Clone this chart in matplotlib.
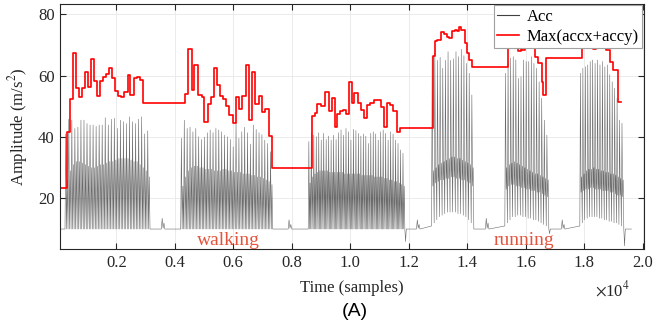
import numpy as np
import matplotlib.pyplot as plt

plt.rcParams['font.family'] = ['Liberation Serif', 'DejaVu Serif']
plt.rcParams['mathtext.fontset'] = 'stix'

# Max(accx+accy): step start (samples) and level (m/s^2)
max_x = [0, 304, 417, 509, 622, 725, 838, 940, 1043, 1145, 1248, 1340, 1453, 1556,
         1650, 1740, 1864, 1956, 2068, 2161, 2274, 2390, 2479, 2595, 2708, 2800, 2903,
         4349, 4463, 4579, 4667, 4804, 4920, 5009, 5125, 5228, 5330, 5443, 5545, 5659,
         5762, 5864, 5980, 6093, 6195, 6308, 6424, 6527, 6640, 6754, 6870, 6982, 7096,
         7211, 7313,
         8690, 8800, 8882, 8990, 9145, 9261, 9364, 9467, 9556, 9648, 9740, 9853, 9945,
         10058, 10127, 10263, 10366, 10468, 10582, 10674, 10811, 11052, 11166, 11258,
         11371, 11474, 11588, 11700,
         12842, 12910, 12978, 13115, 13207, 13299, 13388, 13480, 13573, 13641, 13730,
         13799, 13935, 13992, 14080, 14162,
         15395, 15500, 15620, 15755, 15840, 15890, 15970, 16100, 16200, 16329, 16431,
         16548, 16603, 16695,
         17914, 18020, 18150, 18300, 18420, 18460, 18580, 18650, 18760, 18880, 18993,
         19150]
max_y = [23.5, 41.5, 52.3, 67.5, 56.1, 53.1, 55.9, 61.2, 56.4, 65.4, 58.1, 53.4, 58.4, 59.6,
         60.4, 62.5, 59.1, 55.0, 53.5, 52.9, 54.6, 60.3, 53.7, 59.1, 59.5, 58.6, 51.0,
         53.9, 68.6, 55.3, 63.6, 53.6, 53.1, 44.8, 50.7, 52.9, 62.4, 56.9, 53.5, 52.3,
         50.2, 47.2, 44.5, 52.9, 49.1, 53.5, 63.5, 45.5, 61.3, 50.7, 53.3, 48.2, 49.0,
         40.4, 29.8,
         46.9, 47.9, 50.8, 50.0, 54.7, 48.6, 52.7, 43.4, 47.5, 48.4, 48.9, 47.6, 57.8,
         51.0, 54.4, 51.2, 48.8, 46.2, 50.5, 51.0, 52.1, 49.7, 43.4, 51.2,
         50.3, 48.6, 41.6, 42.8,
         66.4, 71.4, 71.6, 74.1, 73.6, 72.5, 72.2, 74.7, 74.9, 74.6, 75.8,
         74.9, 70.5, 67.3, 65.1, 62.7,
         70.5, 73.0, 74.0, 68.0, 72.5, 68.5, 73.0, 71.0, 69.0, 66.2, 64.0,
         58.0, 53.7, 65.9,
         71.0, 73.5, 74.5, 68.8, 73.5, 69.0, 72.5, 72.0, 68.4, 64.6, 61.7,
         51.5]
max_end = 19270

# Acc: bursts of activity (walking x3, running x3)
burst_start = [246, 4203, 8565, 12783, 15290, 17855]
burst_end = [3154, 7350, 11870, 14230, 16795, 19360]
burst_dip = [10.0, 10.0, 5.9, 10.0, 8.5, 4.5]
rest_level = 10.0

walk_peaks = [
    [41.0, 45.8, 45.5, 42.8, 43.2, 45.5, 45.5, 44.4, 43.9, 43.9, 43.5, 43.9, 43.9, 46.3,
     43.9, 45.8, 46.1, 42.8, 45.5, 45.0, 44.4, 46.6, 45.0, 44.4, 45.8, 46.6, 41.0, 42.0],
    [39.6, 45.5, 42.8, 43.2, 41.7, 42.8, 40.1, 39.2, 40.0, 41.4, 42.3, 41.4, 42.8, 42.3,
     41.7, 40.6, 40.1, 39.2, 36.8, 45.0, 39.6, 41.7, 43.2, 41.4, 37.7, 43.9, 42.5, 41.4,
     40.8, 39.0, 37.9, 35.2],
    [38.5, 41.4, 40.6, 40.1, 41.4, 39.0, 41.2, 39.2, 40.3, 39.0, 40.6, 39.2, 41.4, 42.3,
     40.6, 42.8, 41.7, 39.0, 42.5, 42.1, 41.2, 40.3, 41.0, 40.3, 37.9, 41.2, 41.7, 41.0,
     39.0, 41.7, 42.3, 41.2, 39.0, 41.7, 41.0, 39.0, 37.9, 35.8, 34.7],
]
walk_mid = [
    [26, 29, 31, 32, 32, 31.5, 31, 30.5, 30, 30, 30.5, 31, 31, 31.5,
     32, 32, 32.5, 33, 33, 33, 33, 32.5, 32, 32, 31, 30, 29, 27],
    [24, 27, 29, 30, 30.5, 30.5, 30, 30, 29.5, 29.5, 29.5, 29, 29, 29,
     29.5, 29.5, 29, 29, 28.5, 28.5, 28.5, 28, 28, 28, 27.5, 27.5, 27, 27,
     26.5, 26, 25.5, 24.5],
    [25, 27, 28, 28.5, 29, 29, 29, 29, 28.5, 28.5, 28.5, 28.5, 28.5, 28.5,
     28, 28, 28, 28, 28, 28, 28, 27.5, 27.5, 27.5, 27.5, 27.5, 27, 27,
     27, 27, 26.5, 26.5, 26, 26, 25.5, 25.5, 25, 24.5, 24],
]

run_peaks = [
    [66.2, 67.5, 65.0, 66.0, 62.4, 65.0, 67.8, 65.0, 65.5, 67.8, 66.2, 68.6, 66.5, 64.0,
     60.8, 53.7],
    [60.8, 64.0, 65.7, 66.2, 65.1, 59.1, 59.7, 65.1, 64.6, 64.6, 66.2, 64.0, 62.4, 58.0,
     52.6, 45.5, 40.6],
    [60.8, 62.4, 62.9, 63.5, 64.6, 65.1, 64.0, 65.1, 63.5, 64.6, 62.9, 63.5, 60.3, 58.0,
     55.9, 52.6, 45.5, 44.5],
]
run_hi = [
    [29, 30, 31, 31.5, 32, 32.5, 33, 33.5, 33.5, 33, 33, 32.5, 32, 31.5, 31, 30],
    [30, 31, 31.5, 32, 31.5, 31, 30.5, 30, 29.5, 29, 28.5, 28, 28, 27.5, 27, 26.5, 26],
    [27, 28, 29, 29.5, 29.5, 30, 29.5, 29.5, 29, 29, 28.5, 28.5, 28, 28, 27.5, 27, 26.5, 26],
]
run_lo = [
    [24, 25, 25.5, 26, 26, 26.5, 26.5, 27, 27, 26.5, 26.5, 26, 26, 25.5, 25, 24],
    [23, 24, 24.5, 24.5, 24, 24, 23.5, 23.5, 23, 23, 22.5, 22.5, 22, 22, 21.5, 21, 20.5],
    [22, 22.5, 23, 23, 23.5, 23.5, 23, 23, 23, 22.5, 22.5, 22.5, 22, 22, 21.5, 21, 21, 20.5],
]
run_trough = [
    [11, 12, 13, 14, 14.5, 15, 15.5, 15.5, 15.5, 15.5, 15, 15, 14.5, 14, 13, 12],
    [11, 12, 13, 14, 14, 14.5, 14.5, 14, 14, 13.5, 13.5, 13, 13, 12.5, 12, 11.5, 11],
    [11, 12, 13, 13.5, 14, 14, 14, 14, 13.5, 13.5, 13, 13, 12.5, 12.5, 12, 12, 11.5, 11],
]

blip_x = [3600, 7940, 12327, 14685, 17283]
blip_h = [13.5, 13.0, 13.0, 13.5, 13.0]
acc_end = 19620


def stride_levels(i):
    # list of level sequences, one per stride
    if i < 3:
        return [[rest_level, p, rest_level, m]
                for p, m in zip(walk_peaks[i], walk_mid[i])]
    k = i - 3
    return [[t, p, lo, hi]
            for p, hi, lo, t in zip(run_peaks[k], run_hi[k], run_lo[k], run_trough[k])]


gx, gy = [0], [rest_level]
for i in range(len(burst_start)):
    strides = stride_levels(i)
    w = (burst_end[i] - burst_start[i]) / len(strides)
    for j, lev in enumerate(strides):
        x0 = burst_start[i] + j * w
        for k, v in enumerate(lev):
            gx.append(x0 + k * w / len(lev))
            gy.append(v)
    gx += [burst_end[i], burst_end[i] + 25, burst_end[i] + 50]
    gy += [rest_level, burst_dip[i], rest_level]
    if i < len(blip_x):
        b, h = blip_x[i], blip_h[i]
        gx += [b - 60, b - 30, b, b + 30, b + 60]
        gy += [rest_level, h, rest_level + 0.3, h - 1.5, rest_level]
gx.append(acc_end)
gy.append(rest_level)

fig = plt.figure(figsize=(6.67, 3.28), dpi=100)
ax = fig.add_axes([0.0904, 0.2409, 0.8751, 0.7484])

ax.plot(gx, gy, color='#6a6a6a', lw=0.4, label='Acc')
ax.step(max_x + [max_end], max_y + [max_y[-1]], where='post',
        color='#ff0000', lw=1.2, label='Max(accx+accy)')

ax.text(5830, 6.4, 'walking', color='#e4533c', fontsize=14, ha='center', va='center')
ax.text(15930, 6.4, 'running', color='#e4533c', fontsize=14, ha='center', va='center')

ax.set_xlim(85, 20050)
ax.set_ylim(3.5, 83.5)
xt = np.arange(2000, 20001, 2000)
ax.set_xticks(xt)
ax.set_xticklabels([f'{v / 1e4:.1f}' for v in xt])
ax.set_yticks([20, 40, 60, 80])
ax.tick_params(direction='in', top=True, right=True, length=4, width=0.8,
               labelsize=12, colors='#262626', pad=4)
for s in ax.spines.values():
    s.set_color('#262626')
    s.set_linewidth(0.8)
ax.grid(True, color='#e8e8e8', lw=0.6)
ax.set_axisbelow(True)

ax.set_xlabel('Time (samples)', fontsize=12, color='#262626', labelpad=7)
ax.set_ylabel('Amplitude (m/s$^2$)', fontsize=12, color='#262626', labelpad=6)

leg = ax.legend(loc='upper right', fontsize=12, handlelength=1.3, handletextpad=0.5,
                labelspacing=0.25, borderpad=0.2, borderaxespad=0.1,
                fancybox=False, framealpha=1, edgecolor='#a0a0a0')
leg.get_frame().set_linewidth(0.8)
leg.get_lines()[0].set_color('#404040')
leg.get_lines()[0].set_linewidth(0.8)

fig.text(612 / 667, 1 - 290 / 328, r'$\times$10$^4$', fontsize=12, color='#262626',
         ha='center', va='center')
fig.text(354.5 / 667, 1 - 311 / 328, '(A)', fontsize=14, family='Liberation Sans',
         ha='center', va='center')

fig.savefig('out.png', dpi=100)
